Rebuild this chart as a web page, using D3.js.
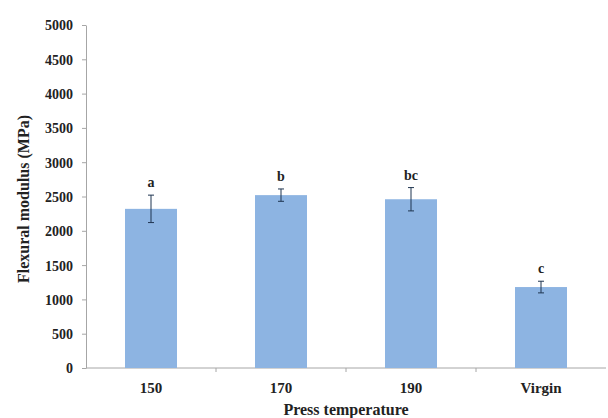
<!DOCTYPE html>
<html lang="en">
<meta charset="utf-8">
<style>
body { margin: 0; background: #fff; }
text { font-family: "Times New Roman", Times, "Liberation Serif", "DejaVu Serif", serif; font-weight: bold; fill: #222; }
.axis path, .axis line { stroke: #a6a6a6; }
</style>
<body>
<div id="chart"></div>
<script src="https://d3js.org/d3.v7.min.js"></script>
<script>
// chart data
var categories = ["150", "170", "190", "Virgin"];
var modulus = [2320, 2520, 2460, 1180];
var errors = [200, 90, 170, 85];
var letters = ["a", "b", "bc", "c"];
var yTicks = [0, 500, 1000, 1500, 2000, 2500, 3000, 3500, 4000, 4500, 5000];

var width = 608,
    height = 418;

var svg = d3.select("#chart").append("svg")
    .attr("width", width)
    .attr("height", height);

var x = d3.scaleBand()
    .domain(categories)
    .range([86, 606]);

var y = d3.scaleLinear()
    .domain([0, 5000])
    .range([368, 25]);

var barW = x.bandwidth() * 0.4;

// y axis
var yAxis = svg.append("g")
    .attr("class", "axis")
    .attr("transform", "translate(86,0)")
    .call(d3.axisLeft(y).tickValues(yTicks).tickFormat(d3.format("d"))
      .tickSize(4).tickSizeOuter(0).tickPadding(9));
yAxis.selectAll("text")
    .style("font-size", "14px")
    .style("font-family", null)
    .attr("dy", "0.35em");
yAxis.attr("font-family", null);

// x axis line + ticks at band edges
var xg = svg.append("g").attr("class", "axis");
xg.append("line")
    .attr("x1", 86).attr("x2", 606)
    .attr("y1", y(0)).attr("y2", y(0));
xg.selectAll(".tk")
  .data(categories.slice(1))
  .enter().append("line")
    .attr("x1", function(d) { return x(d); })
    .attr("x2", function(d) { return x(d); })
    .attr("y1", y(0)).attr("y2", y(0) + 4);
xg.selectAll(".lbl")
  .data(categories)
  .enter().append("text")
    .attr("x", function(d) { return x(d) + x.bandwidth() / 2; })
    .attr("y", 393)
    .attr("text-anchor", "middle")
    .style("font-size", "15px")
    .text(function(d) { return d; });

// bars
svg.selectAll(".bar")
  .data(categories)
  .enter().append("rect")
    .attr("x", function(d) { return x(d) + (x.bandwidth() - barW) / 2; })
    .attr("y", function(d, i) { return y(modulus[i]); })
    .attr("width", barW)
    .attr("height", function(d, i) { return y(0) - y(modulus[i]); })
    .attr("fill", "#8db4e2");

// error bars
var eb = svg.selectAll(".err")
  .data(categories)
  .enter().append("g")
    .attr("stroke", "#1f3550")
    .attr("stroke-width", 1);
eb.append("line")
    .attr("x1", function(d) { return x(d) + x.bandwidth() / 2; })
    .attr("x2", function(d) { return x(d) + x.bandwidth() / 2; })
    .attr("y1", function(d, i) { return y(modulus[i] + errors[i]); })
    .attr("y2", function(d, i) { return y(modulus[i] - errors[i]); });
eb.append("line")
    .attr("x1", function(d) { return x(d) + x.bandwidth() / 2 - 3; })
    .attr("x2", function(d) { return x(d) + x.bandwidth() / 2 + 3; })
    .attr("y1", function(d, i) { return y(modulus[i] + errors[i]); })
    .attr("y2", function(d, i) { return y(modulus[i] + errors[i]); });
eb.append("line")
    .attr("x1", function(d) { return x(d) + x.bandwidth() / 2 - 3; })
    .attr("x2", function(d) { return x(d) + x.bandwidth() / 2 + 3; })
    .attr("y1", function(d, i) { return y(modulus[i] - errors[i]); })
    .attr("y2", function(d, i) { return y(modulus[i] - errors[i]); });

// significance letters
svg.selectAll(".sig")
  .data(categories)
  .enter().append("text")
    .attr("x", function(d) { return x(d) + x.bandwidth() / 2; })
    .attr("y", function(d, i) { return y(modulus[i] + errors[i]) - 8; })
    .attr("text-anchor", "middle")
    .style("font-size", "14px")
    .text(function(d, i) { return letters[i]; });

// axis titles
svg.append("text")
    .attr("transform", "translate(29,199) rotate(-90)")
    .attr("text-anchor", "middle")
    .style("font-size", "16px")
    .text("Flexural modulus (MPa)");

svg.append("text")
    .attr("x", 346)
    .attr("y", 415)
    .attr("text-anchor", "middle")
    .style("font-size", "16px")
    .text("Press temperature");
</script>
</body>
</html>
